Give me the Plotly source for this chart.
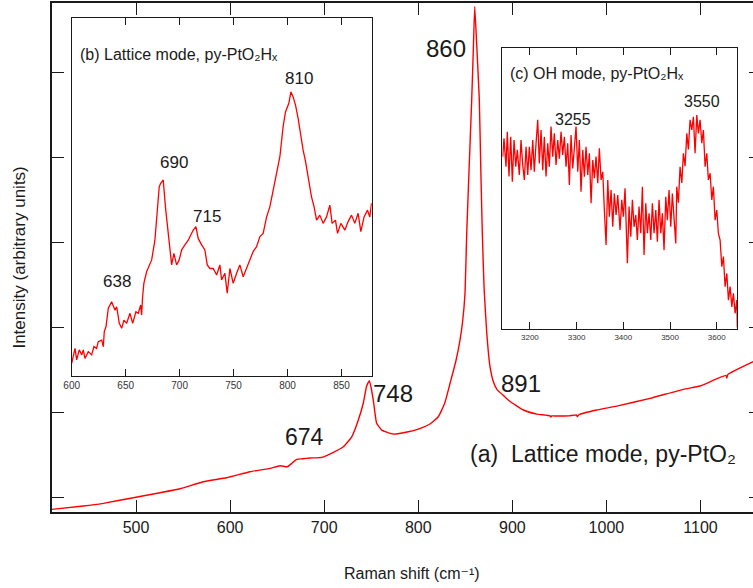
import plotly.graph_objects as go

# ---------------- (a) main spectrum: lattice mode, py-PtO2 ----------------
main_shift = [410.4, 444.0, 465.2, 497.1, 525.5, 546.8, 571.5, 596.4, 621.2, 642.4,
              653.1, 660.8, 666.0, 670.8, 677.0, 685.0, 697.4, 709.7, 720.4, 729.3,
              736.3, 741.6, 745.0, 748.0, 750.0, 752.2, 755.8, 761.2, 773.5, 789.4,
              800.0, 812.5, 821.3, 828.0, 833.8, 840.0, 844.4, 847.0, 849.7, 851.5,
              854.0, 856.8, 858.5, 860.0, 862.0, 864.9, 866.5, 868.1, 870.0, 872.8,
              876.3, 880.0, 884.0, 891.0, 897.0, 911.7, 925.9, 940.0, 941.0, 942.0,
              947.2, 960.0, 968.4, 969.0, 971.0, 989.7, 1011.0, 1046.4, 1081.8, 1099.5,
              1127.0, 1128.0, 1129.0, 1156.0]
main_int = [-0.145, -0.106, -0.074, -0.008, 0.051, 0.098, 0.180, 0.227, 0.298, 0.338,
            0.368, 0.356, 0.400, 0.444, 0.450, 0.459, 0.467, 0.526, 0.592, 0.709,
            0.906, 1.106, 1.300, 1.370, 1.280, 1.141, 0.867, 0.788, 0.741, 0.768,
            0.800, 0.859, 0.945, 1.100, 1.338, 1.600, 1.850, 2.050, 2.400, 3.100,
            3.850, 4.670, 5.250, 5.770, 5.350, 4.670, 3.850, 3.100, 2.450, 1.930,
            1.530, 1.350, 1.260, 1.190, 1.130, 1.024, 0.976, 0.955, 0.942, 0.955,
            0.953, 0.955, 0.965, 0.945, 0.970, 1.024, 1.070, 1.161, 1.267, 1.306,
            1.430, 1.400, 1.440, 1.592]
main_ticks_x = [500, 600, 700, 800, 900, 1000, 1100]
main_ticks_y = [0, 1, 2, 3, 4, 5]

# ---------------- (b) inset: lattice mode, py-PtO2Hx ----------------
b_shift = [600.0, 603.1, 604.6, 607.0, 609.3, 610.7, 612.3, 615.4, 618.5, 620.6,
           623.1, 624.6, 627.8, 629.3, 630.2, 631.8, 633.9, 637.0, 640.1, 641.7,
           644.1, 646.3, 648.4, 650.9, 654.0, 656.5, 659.5, 661.7, 663.9, 664.8,
           665.7, 666.9, 669.4, 672.5, 674.1, 677.1, 679.3, 681.1, 682.4, 684.8,
           687.0, 689.4, 691.0, 692.6, 694.7, 697.2, 699.6, 701.9, 704.9, 708.0,
           710.2, 712.6, 715.1, 717.2, 720.4, 723.4, 725.6, 728.1, 731.1, 734.3,
           737.3, 738.9, 741.9, 744.1, 746.6, 749.6, 752.8, 755.8, 758.9, 762.0,
           765.1, 768.1, 771.3, 774.4, 777.4, 780.6, 783.6, 786.7, 789.8, 792.9,
           795.9, 798.1, 801.2, 803.1, 805.2, 807.4, 809.8, 812.3, 814.4, 816.7,
           819.7, 822.2, 824.6, 826.9, 829.9, 833.0, 836.1, 839.2, 841.3, 844.4,
           846.3, 849.4, 853.1, 856.1, 859.3, 862.3, 865.4, 867.9, 870.9, 874.1,
           876.2, 877.8]
b_int = [3.5, 7.7, 4.5, 7.3, 5.9, 7.3, 4.9, 6.8, 5.9, 8.2,
         7.7, 9.6, 10.0, 8.2, 12.4, 13.8, 18.9, 20.7, 18.4, 19.3,
         14.7, 13.3, 15.6, 14.7, 17.5, 14.7, 17.9, 17.5, 19.8, 17.0,
         22.1, 25.9, 29.1, 31.0, 32.4, 37.9, 45.4, 52.8, 53.8, 54.7,
         46.8, 40.3, 37.0, 31.0, 34.2, 31.0, 32.4, 35.2, 36.6, 37.9,
         39.3, 40.7, 41.7, 38.4, 36.6, 35.2, 31.0, 30.0, 30.0, 28.2,
         31.0, 26.8, 28.7, 23.1, 30.0, 25.9, 28.7, 31.0, 27.7, 30.0,
         32.8, 34.7, 36.1, 38.9, 39.8, 44.4, 47.2, 51.9, 57.5, 61.2,
         69.6, 73.7, 76.1, 79.3, 77.9, 75.6, 71.9, 66.8, 63.1, 59.8,
         54.7, 50.0, 47.2, 43.5, 44.9, 42.6, 44.4, 47.7, 42.6, 43.5,
         39.8, 42.6, 40.7, 43.1, 44.9, 42.6, 45.4, 40.3, 44.4, 46.3,
         44.4, 48.2]
b_ticks_x = [600, 650, 700, 750, 800, 850]

# ---------------- (c) inset: OH mode, py-PtO2Hx ----------------
c_shift = [3141.9, 3144.6, 3148.9, 3151.7, 3155.3, 3159.0, 3162.4, 3166.1, 3169.7, 3173.1,
           3177.4, 3181.0, 3184.7, 3188.1, 3191.8, 3195.4, 3198.8, 3202.5, 3206.1, 3209.5,
           3213.2, 3216.8, 3220.2, 3223.9, 3227.5, 3230.9, 3234.6, 3238.2, 3241.6, 3245.3,
           3248.9, 3252.3, 3256.0, 3259.6, 3263.1, 3266.7, 3270.3, 3273.8, 3277.4, 3281.0,
           3284.5, 3288.1, 3291.7, 3295.2, 3298.8, 3302.5, 3305.9, 3309.5, 3313.2, 3316.6,
           3320.2, 3323.9, 3327.3, 3331.0, 3334.6, 3338.0, 3341.6, 3345.3, 3348.7, 3352.4,
           3356.0, 3359.4, 3363.1, 3366.7, 3370.1, 3373.8, 3377.4, 3380.8, 3384.5, 3388.1,
           3393.0, 3396.7, 3400.1, 3403.7, 3407.4, 3408.7, 3412.3, 3416.0, 3419.4, 3423.0,
           3426.7, 3430.1, 3433.7, 3437.4, 3440.8, 3444.4, 3448.1, 3451.5, 3455.1, 3458.8,
           3462.2, 3465.8, 3469.5, 3472.9, 3476.5, 3480.2, 3483.6, 3487.2, 3490.9, 3494.3,
           3497.9, 3501.6, 3505.0, 3508.7, 3512.3, 3514.4, 3517.9, 3521.5, 3525.2, 3528.6,
           3532.2, 3535.9, 3539.3, 3542.9, 3546.6, 3550.0, 3553.6, 3557.3, 3560.7, 3564.3,
           3568.0, 3571.4, 3575.1, 3578.7, 3582.1, 3585.8, 3589.4, 3592.8, 3596.5, 3600.1,
           3603.5, 3607.2, 3610.8, 3614.3, 3617.9, 3621.6, 3625.0, 3628.6, 3632.3, 3635.7,
           3639.3, 3643.0, 3644.0]
c_int = [61.4, 67.9, 57.8, 70.3, 54.3, 68.5, 52.5, 67.3, 57.8, 63.8,
         54.9, 67.3, 58.4, 53.1, 64.9, 54.9, 64.9, 56.6, 67.3, 56.0,
         66.2, 74.5, 59.0, 70.9, 56.6, 68.5, 54.3, 66.2, 57.8, 72.1,
         61.4, 69.7, 58.4, 67.3, 60.7, 70.3, 62.0, 68.5, 57.8, 66.2,
         51.3, 69.1, 57.2, 65.6, 72.1, 56.0, 67.3, 48.9, 63.8, 54.3,
         64.9, 54.9, 62.6, 44.8, 60.2, 53.7, 61.4, 51.9, 64.4, 53.1,
         56.0, 42.4, 29.9, 53.1, 40.0, 49.5, 36.4, 48.3, 40.6, 47.7,
         35.3, 46.0, 40.0, 50.1, 34.7, 23.4, 43.6, 32.9, 46.0, 36.4,
         40.6, 31.7, 43.6, 34.1, 50.7, 26.4, 44.8, 34.1, 41.2, 31.7,
         44.8, 34.1, 42.4, 31.1, 46.0, 34.1, 41.2, 28.1, 47.1, 38.8,
         49.5, 36.4, 48.3, 40.0, 30.5, 50.7, 45.0, 57.8, 52.0, 62.6,
         58.0, 69.7, 64.0, 74.5, 70.9, 75.6, 62.6, 76.2, 69.7, 74.5,
         66.2, 70.9, 57.8, 62.6, 53.1, 55.5, 46.0, 50.7, 38.8, 42.4,
         34.1, 31.7, 22.2, 25.8, 15.1, 19.8, 10.3, 15.1, 7.9, 12.7,
         5.6, 10.3, 0.5]
c_ticks_x = [3200, 3300, 3400, 3500, 3600]

FONT = "Liberation Sans, Arial, Helvetica, DejaVu Sans, sans-serif"
RED = "#ff0000"
INK = "#1a1a1a"

fig = go.Figure()

fig.add_trace(go.Scatter(x=main_shift, y=main_int, mode="lines",
                         line=dict(color=RED, width=1.4, shape="spline", smoothing=0.4),
                         xaxis="x", yaxis="y", hoverinfo="skip", showlegend=False))
# invisible copy that carries the right-hand tick axis
fig.add_trace(go.Scatter(x=main_shift, y=main_int, mode="lines", opacity=0,
                         line=dict(color=RED, width=0),
                         xaxis="x", yaxis="y2", hoverinfo="skip", showlegend=False))
fig.add_trace(go.Scatter(x=b_shift, y=b_int, mode="lines",
                         line=dict(color=RED, width=1.3),
                         xaxis="x3", yaxis="y3", hoverinfo="skip", showlegend=False))
fig.add_trace(go.Scatter(x=c_shift, y=c_int, mode="lines",
                         line=dict(color=RED, width=1.3),
                         xaxis="x4", yaxis="y4", hoverinfo="skip", showlegend=False))

y_range = [-0.176, 5.812]

fig.update_layout(
    width=753, height=588,
    margin=dict(l=52, r=0, t=3, b=76),
    paper_bgcolor="white", plot_bgcolor="white",
    font=dict(family=FONT, color=INK),
    xaxis=dict(range=[410.7, 1155.8], tickmode="array", tickvals=main_ticks_x,
               ticks="inside", ticklen=12, tickwidth=1.2, tickcolor=INK,
               showline=True, linecolor=INK, linewidth=1.5, mirror="ticks",
               showgrid=False, zeroline=False, tickfont=dict(size=16, color=INK)),
    yaxis=dict(range=y_range, tickmode="array", tickvals=main_ticks_y,
               ticks="inside", ticklen=12, tickwidth=1.2, tickcolor=INK,
               showline=True, linecolor=INK, linewidth=1.5, mirror=False,
               showgrid=False, zeroline=False, showticklabels=False),
    yaxis2=dict(range=y_range, overlaying="y", side="right", anchor="x",
                tickmode="array", tickvals=main_ticks_y, ticks="inside", ticklen=4,
                tickwidth=1.2, tickcolor=INK, showline=False, showgrid=False,
                zeroline=False, showticklabels=False),
    xaxis3=dict(domain=[0.0281, 0.4561], anchor="y3", range=[600, 878],
                tickmode="array", tickvals=b_ticks_x, ticks="inside", ticklen=7,
                tickwidth=1, tickcolor=INK, showline=True, linecolor=INK, linewidth=1.3,
                mirror="ticks", showgrid=False, zeroline=False,
                tickfont=dict(size=10, color="#333333")),
    yaxis3=dict(domain=[0.2672, 0.9711], anchor="x3", range=[0, 100],
                showline=True, linecolor=INK, linewidth=1.3, mirror=True,
                ticks="", showticklabels=False, showgrid=False, zeroline=False),
    xaxis4=dict(domain=[0.6424, 0.9776], anchor="y4", range=[3141, 3644],
                tickmode="array", tickvals=c_ticks_x, ticks="inside", ticklen=7,
                tickwidth=1, tickcolor=INK, showline=True, linecolor=INK, linewidth=1.3,
                mirror="ticks", showgrid=False, zeroline=False,
                tickfont=dict(size=8, color="#333333")),
    yaxis4=dict(domain=[0.3595, 0.911], anchor="x4", range=[0, 100],
                showline=True, linecolor=INK, linewidth=1.3, mirror=True,
                ticks="", showticklabels=False, showgrid=False, zeroline=False),
)

annotations = [
    # main panel peak labels
    dict(text="860", x=829.5, y=5.28, xref="x", yref="y", font=dict(size=24)),
    dict(text="748", x=773.2, y=1.224, xref="x", yref="y", font=dict(size=24)),
    dict(text="891", x=909.0, y=1.33, xref="x", yref="y", font=dict(size=24)),
    dict(text="674", x=678.6, y=0.706, xref="x", yref="y", font=dict(size=23)),
    dict(text="(a)  Lattice mode, py-PtO₂", x=852.9, y=0.51,
         xref="x", yref="y", xanchor="left", font=dict(size=23)),
    # inset (b)
    dict(text="(b) Lattice mode, py-PtO₂Hₓ", x=606.1, y=89.8,
         xref="x3", yref="y3", xanchor="left", font=dict(size=16)),
    dict(text="810", x=810.5, y=83.1, xref="x3", yref="y3", font=dict(size=17)),
    dict(text="690", x=694.4, y=59.5, xref="x3", yref="y3", font=dict(size=17)),
    dict(text="715", x=725.3, y=44.5, xref="x3", yref="y3", font=dict(size=17)),
    dict(text="638", x=641.7, y=26.3, xref="x3", yref="y3", font=dict(size=17)),
    # inset (c)
    dict(text="(c) OH mode, py-PtO₂Hₓ", x=3153.8, y=91.1,
         xref="x4", yref="y4", xanchor="left", font=dict(size=16)),
    dict(text="3255", x=3293, y=74.7, xref="x4", yref="y4", font=dict(size=16)),
    dict(text="3550", x=3568, y=81.0, xref="x4", yref="y4", font=dict(size=16)),
    # axis titles
    dict(text="Raman shift (cm⁻¹)", x=0.5136, y=-0.12,
         xref="paper", yref="paper", font=dict(size=16)),
    dict(text="Intensity (arbitrary units)", x=-0.047, y=0.5, textangle=-90,
         xref="paper", yref="paper", font=dict(size=17)),
]
for a in annotations:
    a.setdefault("showarrow", False)
    a.setdefault("xanchor", "center")
    a.setdefault("yanchor", "middle")
    a["font"] = dict(family=FONT, color=INK, **a["font"])
fig.update_layout(annotations=annotations)

fig.write_html("out.html")
